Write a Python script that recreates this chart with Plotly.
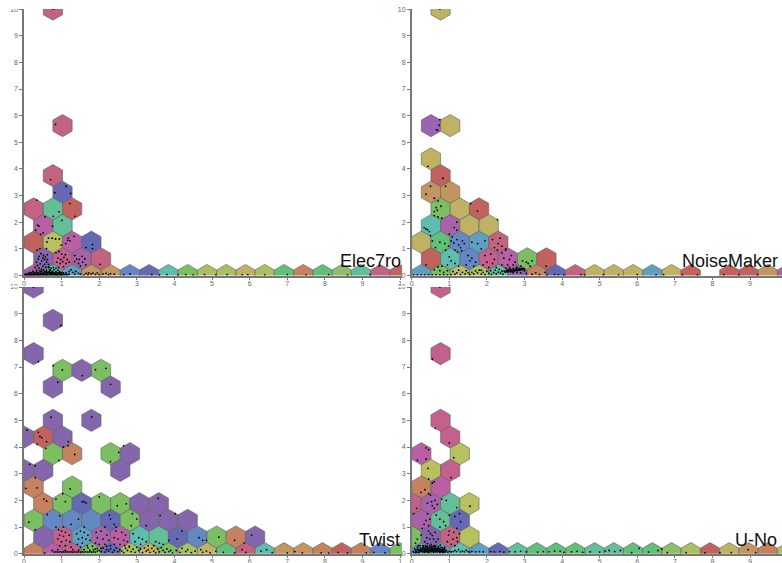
import plotly.graph_objects as go

W, H = 782, 563

tick_vals = [0, 1, 2, 3, 4, 5, 6, 7, 8, 9, 10]
x_tick_text = ["0", "1", "2", "3", "4", "5", "6", "7", "8", "9", "1"]
y_tick_text = ["0", "1", "2", "3", "4", "5", "6", "7", "8", "9", "10"]
panel_names = ["Elec7ro", "NoiseMaker", "Twist", "U-No"]

palette = {
    "rose": "#c2637f", "teal": "#62bf97", "red": "#c2625f", "indigo": "#6568b3",
    "magenta": "#b95fa6", "olive": "#b8c05f", "violet": "#8566ad", "pink": "#c3608e",
    "purple": "#a862a9", "cyan": "#5fbdb0", "sky": "#5f9fc2", "tan": "#c4965f",
    "blue": "#6488c4", "green": "#7bbf62", "yg": "#a9c062", "khaki": "#c0b264",
    "terra": "#c4825f", "emerald": "#62bf78", "lilac": "#9a64b0", "lime": "#8cc068",
}

# hex bins as (column, row)
elec_bins = [(3,16),(4,9),(3,6),(4,5),(1,4),(3,4),(5,4),(2,3),(4,3),(1,2),(3,2),(5,2),(7,2),
             (2,1),(4,1),(6,1),(8,1),
             (1,0),(3,0),(5,0),(7,0),(9,0),(11,0),(13,0),(15,0),(17,0),(19,0),(21,0),(23,0),
             (25,0),(27,0),(29,0),(31,0),(33,0),(35,0),(37,0),(39,0)]
elec_tones = ["rose","rose","rose","indigo","rose","teal","red","magenta","teal","red","olive","magenta","indigo",
              "violet","pink","purple","rose",
              "purple","cyan","sky","tan","tan","blue","indigo","cyan","green","yg","yg","khaki",
              "yg","emerald","terra","emerald","lime","teal","rose","red"]

noise_bins = [(3,16),(2,9),(4,9),(2,7),(3,6),(2,5),(4,5),(3,4),(5,4),(7,4),(2,3),(4,3),(6,3),(8,3),
              (1,2),(3,2),(5,2),(7,2),(9,2),
              (2,1),(4,1),(6,1),(8,1),(10,1),(12,1),(14,1),
              (1,0),(3,0),(5,0),(7,0),(9,0),(11,0),(13,0),(15,0),(17,0),(19,0),(21,0),(23,0),
              (25,0),(27,0),(29,0),(33,0),(35,0),(37,0),(39,0)]
noise_tones = ["khaki","lilac","khaki","khaki","red","tan","tan","green","khaki","red","cyan","purple","khaki","khaki",
               "khaki","emerald","blue","sky","rose",
               "red","cyan","blue","pink","magenta","green","red",
               "sky","green","olive","yg","teal","violet","terra","indigo","rose","khaki","khaki","khaki",
               "sky","khaki","red","red","red","tan","purple"]

twist_bins = [(1,16),(3,14),(1,12),(4,11),(6,11),(8,11),(3,10),(9,10),(3,8),(7,8),(0,7),(2,7),(4,7),
              (3,6),(5,6),(9,6),(11,6),(0,5),(2,5),(10,5),(1,4),(5,4),
              (2,3),(4,3),(6,3),(8,3),(10,3),(12,3),(14,3),
              (1,2),(3,2),(5,2),(7,2),(9,2),(11,2),(13,2),(15,2),(17,2),
              (2,1),(4,1),(6,1),(8,1),(10,1),(12,1),(14,1),(16,1),(18,1),(20,1),(22,1),(24,1),
              (1,0),(3,0),(5,0),(7,0),(9,0),(11,0),(13,0),(15,0),(17,0),(19,0),(21,0),(23,0),(25,0),
              (27,0),(29,0),(31,0),(33,0),(35,0),(37,0),(39,0)]
twist_tones = ["violet","violet","violet","green","violet","green","violet","violet","violet","violet","violet","red","violet",
               "green","terra","green","violet","violet","violet","violet","terra","green",
               "terra","green","indigo","green","green","violet","violet",
               "green","blue","blue","blue","indigo","green","violet","violet","violet",
               "violet","pink","sky","purple","magenta","cyan","teal","indigo","blue","green","terra","violet",
               "terra","magenta","pink","green","indigo","yg","khaki","green","yg","khaki","emerald","rose","cyan",
               "tan","tan","terra","red","terra","blue","green"]

uno_bins = [(3,16),(3,12),(3,8),(4,7),(1,6),(5,6),(2,5),(4,5),(1,4),(3,4),(0,3),(2,3),(4,3),(6,3),
            (1,2),(3,2),(5,2),(0,1),(2,1),(4,1),(6,1),
            (1,0),(3,0),(5,0),(7,0),(9,0),(11,0),(13,0),(15,0),(17,0),(19,0),(21,0),(23,0),(25,0),
            (27,0),(29,0),(31,0),(33,0),(35,0),(37,0),(39,0)]
uno_tones = ["pink","pink","pink","pink","magenta","olive","olive","pink","terra","magenta","pink","purple","teal","olive",
             "purple","teal","indigo","green","violet","rose","olive",
             "sky","sky","cyan","sky","indigo","teal","emerald","emerald","emerald","teal","teal","emerald","emerald",
             "lime","yg","red","khaki","tan","terra","yg"]

elec_dots = [(.78,10),(.84,5.67),(.71,3.6),(1.12,3.35),(1.24,3.08),(.82,3.11),(.34,2.83),(1.22,2.7),(.93,2.39),(1.35,2.22),
 (.78,2.22),(.56,2.2),(1.01,2.07),(.36,1.89),(.4,1.85),(.76,1.85),(.31,1.7),(.51,1.6),(.44,1.54),(.65,1.4),(.75,1.4),
 (.84,1.37),(.94,1.37),(.61,1.26),(.99,1.14),(.6,1.01),(1.33,1.47),(1.18,1.4),(1.16,1.32),(1.22,1.3),(1.11,1.2),(1.82,1.16),
 (1.82,1.01),(1.65,1.05),(.42,1.01),(.35,.95),(.33,.5),(.38,.62),(.4,.72),(.45,.82),(.47,.55),(.5,.66),(.52,.75),(.55,.6),
 (.57,.7),(.6,.5),(.62,.6),(.62,.78),(.65,.42),(.43,.44),(.36,.38),(.5,.35),(.55,.42),(.58,.3),(.4,.28),(.47,.24),(.66,.3),
 (.3,.3),(.34,.2),(.42,.18),(.52,.2),(.6,.2),(.68,.22),(.85,.85),(.93,.9),(1.0,.8),(1.1,.78),(.9,.65),(.98,.6),(1.06,.68),
 (1.15,.6),(.87,.5),(.96,.45),(1.03,.52),(1.12,.45),(.92,.3),(1.05,.33),(1.2,.5),(1.35,.75),(1.55,.72),(1.4,.62),(1.47,.6),
 (1.35,.52),(1.45,.45),(1.56,.5),(1.64,.4),(1.5,.35),(1.62,.62),(.65,.32),(.72,.28),(.78,.3),(.85,.27),(.7,.2),(.8,.22),
 (.9,.2),(.95,.15),(.6,.15),(.75,.15),(.85,.14),(1.0,.12),(1.05,.1),(1.25,.22),(1.2,.15),(1.3,.12),(1.12,.1),(1.38,.15),
 (1.45,.08),(1.2,.05),(1.35,.05),(1.5,.06),(1.6,.02),(1.65,.08),(1.7,.03),(1.72,.1),(1.78,.06),(1.83,.09),(1.9,.04),
 (1.95,.1),(2.0,.03),(2.02,.42),(2.1,.06),(2.18,.08),(2.25,.03),(2.3,.07),(2.4,.05),(2.65,.03),(2.82,.06),(3.4,.03),(3.6,.02),
 (3.8,.03),(4.1,.02),(4.3,.03),(4.5,.02),(4.8,.03),(5.1,.02),(5.4,.03),(5.8,.02),(5.95,.03),(6.4,.02),(7.0,.03),(7.5,.02),
 (8.1,.03),(8.6,.02),(9.2,.03),
 (.02,.03),(.05,.06),(.08,.03),(.11,.08),(.14,.04),(.17,.09),(.2,.03),(.23,.07),(.26,.12),(.29,.04),(.32,.09),(.35,.03),
 (.38,.11),(.41,.05),(.44,.08),(.47,.03),(.5,.12),(.53,.06),(.56,.03),(.59,.1),(.62,.05),(.65,.13),(.68,.03),(.71,.08),
 (.74,.11),(.77,.04),(.8,.09),(.83,.03),(.86,.07),(.89,.04),(.92,.09),(.95,.03),(.98,.06),(1.01,.03),(1.04,.05),(1.07,.02),
 (1.1,.05),(1.13,.02),(1.16,.03),(.03,.01),(.07,.01),(.1,.02),(.13,.01),(.16,.02),(.19,.01),(.22,.02),(.25,.01),(.28,.02),
 (.31,.01),(.34,.06),(.37,.01),(.4,.02),(.43,.01),(.46,.06),(.49,.02),(.52,.01),(.55,.08),(.58,.01),(.61,.02),(.64,.01),
 (.67,.08),(.7,.02),(.73,.01),(.76,.06),(.79,.01),(.82,.06),(.85,.01),(.88,.02),(.91,.01),(.94,.06),(.97,.01),(1.0,.02),
 (.24,.16),(.28,.1),(.33,.14),(.37,.07),(.43,.13),(.46,.16),(.51,.09),(.55,.15),(.58,.12),(.63,.1),(.67,.14),(.7,.12),(.74,.07),(.78,.12),
 (.83,.1),(.88,.1),(.93,.13),(.97,.1),(.15,.12),(.2,.1)]

noise_dots = [(.75,10),(.75,5.85),(.73,5.64),(.69,5.45),(.66,5.47),(.43,4.1),(.83,3.65),(.5,3.35),(.9,3.35),(.38,3.05),(.6,2.9),
 (.7,2.8),(.78,2.6),(.65,2.55),(.6,2.4),(.68,2.45),(.6,2.25),(.7,2.2),(.8,2.15),(1.57,2.7),(1.75,2.42),(2.28,2.1),(1.2,2.0),
 (.33,1.8),(.38,1.75),(.42,1.72),(.47,1.65),(.5,1.5),(1.13,1.8),(1.2,1.7),(1.0,1.55),(1.08,1.45),(.55,1.3),(.75,1.25),
 (.88,1.2),(.98,1.1),(.63,1.05),(.9,.95),(1.05,1.3),(1.12,1.22),(1.2,1.35),(1.25,1.15),(1.3,1.05),(1.35,1.3),(1.4,1.2),
 (1.15,.95),(1.33,.93),(1.22,.88),(1.6,1.25),(1.75,1.2),(1.85,1.0),(1.95,1.3),(2.15,1.35),(2.35,1.4),(2.3,1.2),(2.2,1.05),
 (2.4,1.1),(2.5,1.0),(2.28,.95),(.38,.4),(1.0,.7),(1.05,.55),(1.15,.45),(1.25,.35),(.95,.4),(1.5,.75),(1.55,.55),(1.45,.4),
 (1.65,.35),(1.6,.65),(1.7,.5),(1.95,.75),(2.1,.8),(2.2,.6),(2.0,.5),(2.15,.45),(2.25,.3),(1.9,.4),(2.05,.3),(1.85,.2),
 (2.4,.85),(2.5,.95),(2.65,.75),(2.6,.6),(2.45,.65),(2.75,.5),(2.55,.4),(2.7,.4),(2.4,.4),(2.8,.3),(2.95,.55),(3.05,.5),
 (3.1,.45),(3.15,.35),(2.9,.35),(3.0,.25),(3.2,.55),(3.58,.35),(.7,.32),(.8,.35),(.6,.22),(.75,.18),(.85,.12),(.95,.18),
 (1.1,.15),(1.2,.1),(1.25,.2),(1.35,.12),(1.45,.18),(1.5,.1),(1.15,.05),(1.3,.03),(1.42,.06),(1.55,.03),(1.6,.12),(1.65,.06),
 (1.7,.17),(1.75,.1),(1.8,.2),(1.85,.05),(1.9,.12),(1.95,.03),(2.0,.16),(2.05,.08),(2.1,.18),(2.12,.04),(2.18,.11),(2.22,.2),
 (2.25,.06),(2.3,.13),(2.33,.23),(2.36,.09),(2.4,.16),(2.43,.05),(2.46,.17),(2.5,.13),(2.53,.2),(2.56,.16),(2.6,.18),
 (2.63,.14),(2.66,.2),(2.7,.17),(2.73,.22),(2.76,.19),(2.8,.24),(2.83,.2),(2.86,.26),(2.9,.22),(2.93,.27),(2.96,.24),(3.0,.17),
 (2.5,.28),(2.6,.3),(2.7,.1),(2.8,.12),(2.9,.1),(3.05,.08),(.05,.02),(.15,.02),(.25,.02),(.35,.02),(.45,.03),(.55,.02),(.65,.03),
 (.75,.02),(.85,.03),(.95,.02),(1.05,.03),(3.2,.05),(3.3,.1),(3.4,.03),(3.55,.12),(3.6,.02),(3.8,.04),(3.9,.03),(4.05,.02),
 (4.5,.03),(4.6,.02),(5.1,.03),(5.5,.02),(6.0,.03),(6.5,.02),(6.7,.03),(7.2,.03),(7.6,.02),(8.3,.03),(8.7,.02),(9.2,.03),
 (2.48,.14),(2.52,.17),(2.55,.13),(2.58,.2),(2.62,.16),(2.65,.18),(2.68,.15),(2.71,.2),(2.74,.17),(2.77,.21),(2.81,.19),(2.84,.23),
 (2.87,.2),(2.91,.25),(2.94,.22),(2.98,.26),(2.55,.22),(2.62,.24),(2.7,.26),(2.78,.27)]

twist_dots = [(.25,10),(.98,8.55),(.38,7.2),(.9,6.43),(1.02,6.89),(.78,7.05),(1.55,6.68),(1.9,6.9),(2.18,6.95),(2.3,6.35),
 (.72,5.12),(1.8,5.13),(.08,4.63),(.38,4.55),(.42,4.4),(.47,4.35),(.6,4.2),(.35,4.1),(1.18,4.2),(.58,3.95),(1.17,4.05),
 (1.05,4.0),(1.35,3.72),(2.52,3.8),(2.3,3.45),(2.65,4.05),(.15,3.35),(.3,3.3),(.93,3.5),(.3,2.85),(.05,2.45),(.35,2.47),
 (1.23,2.43),(.53,2.05),(.6,1.97),(.85,2.05),(1.1,1.95),(1.03,2.25),(1.55,1.95),(1.65,1.9),(1.6,1.95),(2.0,2.13),(2.48,1.8),
 (2.72,1.87),(3.57,2.08),(.13,1.18),(.3,.9),(.62,1.47),(.95,1.42),(.85,1.0),(1.05,1.0),(1.25,1.1),(1.45,1.3),(1.6,1.0),
 (2.27,1.45),(2.3,1.3),(2.4,1.1),(2.45,1.0),(2.15,1.0),(2.85,1.05),(3.0,1.3),(2.88,1.5),(3.25,1.05),(3.62,1.43),(4.02,1.5),
 (.92,.9),(1.0,.85),(1.1,.8),(.95,.7),(1.05,.65),(1.2,.7),(.9,.55),(1.0,.45),(1.12,.5),(1.22,.45),(.95,.3),(1.1,.3),(1.25,.25),
 (1.4,.75),(1.5,.85),(1.6,.8),(1.7,.7),(1.45,.55),(1.55,.6),(1.65,.55),(1.75,.5),(1.42,.35),(1.55,.4),(1.68,.3),(1.5,.25),
 (1.92,.8),(2.05,.85),(2.2,.7),(1.95,.6),(2.1,.55),(2.25,.5),(1.9,.4),(2.0,.35),(2.15,.35),(2.3,.3),(2.05,.2),(2.2,.15),(1.95,.2),
 (2.45,.85),(2.6,.8),(2.7,.7),(2.4,.6),(2.5,.55),(2.65,.5),(2.75,.45),(2.4,.35),(2.55,.35),(2.68,.3),(2.8,.25),
 (2.9,.75),(3.05,.6),(3.15,.55),(3.25,.45),(2.95,.45),(3.1,.35),(3.3,.3),(3.5,.45),(3.6,.4),(3.7,.35),(3.45,.3),(3.85,.5),
 (4.07,.55),(4.2,.85),(4.65,.6),(4.75,.5),(4.85,.5),(5.18,.62),(5.6,.5),(5.85,.4),(6.05,.7),(.75,.12),(.8,.06),(.85,.07),(.9,.06),
 (.95,.07),(1.0,.06),(1.05,.07),(1.1,.06),(1.15,.07),(1.2,.06),(1.25,.07),(1.3,.06),(1.35,.07),(1.4,.06),(1.45,.07),(1.5,.06),
 (1.55,.07),(1.6,.06),(1.65,.07),(1.7,.06),(1.75,.07),(1.8,.06),(1.85,.07),(1.9,.06),(.55,.02),(.9,.15),(1.1,.12),(1.3,.15),(1.45,.13),
 (1.6,.15),(1.7,.22),(1.75,.12),(1.82,.28),(1.85,.15),(1.9,.18),(1.95,.1),(2.0,.12),(2.05,.08),(2.1,.22),(2.15,.06),(2.2,.28),
 (2.25,.1),(2.3,.18),(2.35,.05),(2.4,.12),(2.45,.22),(2.5,.08),(2.55,.15),(2.6,.1),(2.65,.04),(2.7,.2),(2.75,.12),(2.8,.28),(2.85,.08),
 (2.9,.17),(2.95,.05),(3.0,.24),(3.05,.12),(3.1,.18),(3.15,.04),(3.2,.22),(3.25,.1),(3.3,.15),(3.35,.05),(3.4,.2),(3.45,.1),(3.5,.03),
 (3.55,.18),(3.6,.07),(3.65,.22),(3.7,.12),(3.75,.05),(3.8,.18),(3.85,.08),(3.9,.12),(3.95,.03),(4.05,.12),(4.15,.05),(4.2,.2),
 (4.3,.08),(4.35,.15),(4.45,.04),(4.55,.1),(4.7,.15),(4.75,.05),(4.85,.1),(4.95,.03),(5.1,.1),(5.3,.05),(5.6,.03),(5.8,.15),(5.9,.05),
 (6.3,.1),(6.45,.15),(6.6,.04),(7.0,.03),(7.2,.08),(7.4,.03),(7.9,.03),(8.1,.02),(8.35,.05),(8.6,.03),(9.1,.03),(9.3,.05),(9.6,.03)]

uno_dots = [(.75,10),(.55,7.3),(.63,4.7),(1.0,4.15),(.38,3.97),(.45,3.9),(.38,3.55),(.15,3.5),(1.12,3.6),(.43,3.2),(1.05,2.85),(.45,2.8),
 (.55,2.65),(.6,2.7),(.35,2.4),(.25,2.3),(.45,2.25),(.5,2.2),(.8,2.05),(.62,2.0),(.53,1.95),(.42,1.9),(.55,1.8),(.68,1.85),(.6,1.7),
 (.92,2.0),(1.2,1.73),(1.55,1.78),(.13,1.7),(.05,1.5),(.42,1.5),(.48,1.3),(.38,1.25),(.33,1.1),(.45,1.05),(.28,.95),(.75,1.3),(.85,1.2),
 (.65,1.45),(.9,1.05),(.75,1.0),(1.0,1.45),(1.15,1.4),(1.27,1.5),(1.3,1.2),(1.2,.95),(.45,.85),(.5,.75),(.55,.68),(.4,.6),(.48,.55),
 (.58,.55),(.65,.45),(.35,.45),(.42,.38),(.52,.35),(.6,.3),(.7,.55),(.3,.3),(.38,.25),(.62,.8),(.25,.7),(.15,.55),(.1,.4),(.18,.3),
 (1.0,.85),(1.12,.8),(.98,.7),(1.1,.55),(1.2,.6),(.95,.45),(1.05,.35),(1.15,.3),(1.22,.45),(.88,.25),(1.27,.75),
 (.04,.08),(.08,.18),(.12,.07),(.15,.25),(.18,.12),(.2,.04),(.22,.3),(.25,.18),(.27,.08),(.3,.22),(.32,.12),(.34,.05),(.36,.28),(.38,.16),
 (.4,.09),(.42,.24),(.44,.14),(.46,.05),(.48,.3),(.5,.18),(.52,.08),(.54,.26),(.56,.13),(.58,.05),(.6,.2),(.62,.1),(.64,.28),(.66,.15),
 (.68,.07),(.7,.22),(.72,.12),(.74,.05),(.76,.32),(.78,.16),(.8,.08),(.82,.22),(.84,.12),(.86,.06),(.88,.15),(.9,.08),(.14,.15),(.24,.11),
 (.28,.15),(.33,.2),(.37,.07),(.41,.17),(.45,.11),(.49,.12),(.53,.16),(.57,.09),(.61,.15),(.65,.09),(.69,.14),(.73,.18),(.77,.09),
 (.92,.12),(.96,.06),(1.0,.09),(1.05,.07),(1.1,.08),(1.15,.12),(1.2,.08),(1.25,.15),(1.3,.07),(1.35,.1),(1.4,.07),(1.45,.13),(1.5,.08),
 (1.55,.06),(1.6,.09),(1.7,.07),(1.8,.08),(1.9,.07),(2.1,.08),(2.2,.07),(2.35,.09),(2.45,.06),(2.6,.08),(2.75,.07),(2.9,.09),(3.05,.07),
 (3.35,.06),(3.5,.08),(3.65,.07),(3.8,.1),(3.95,.09),(4.05,.05),(4.25,.07),(4.4,.09),(4.55,.05),(4.75,.07),(5.0,.06),(5.15,.1),(5.25,.12),
 (5.4,.08),(5.55,.12),(5.85,.04),(6.05,.2),(6.3,.06),(6.55,.12),(6.65,.18),(6.8,.04),(7.3,.04),(7.8,.03),(8.2,.03),(8.5,.04),(8.95,.15),(9.15,.04),
 (.1,.12),(.16,.18),(.2,.14),(.23,.22),(.26,.12),(.29,.18),(.31,.26),(.33,.1),(.35,.17),(.37,.22),(.39,.12),(.41,.28),(.43,.19),(.45,.08),
 (.47,.23),(.49,.16),(.51,.25),(.53,.1),(.55,.2),(.57,.17),(.59,.27),(.61,.22),(.63,.12),(.65,.2),(.67,.12),(.69,.18),(.71,.27),(.73,.1),
 (.75,.2),(.77,.14),(.79,.24),(.81,.12),(.83,.17),(.85,.1),(.87,.2),(.3,.07),(.36,.1),(.42,.06),(.47,.12),(.52,.14),(.57,.12),(.63,.07),
 (.7,.1),(.76,.07),(.82,.05),(.88,.07),(.22,.09),(.16,.06),(.11,.04),(.06,.05)]

PANELS = [
    (elec_bins, elec_tones, elec_dots, (24, 402), (9.1, 275.5), 10.05),
    (noise_bins, noise_tones, noise_dots, (411.7, 782), (9.1, 275.5), 9.85),
    (twist_bins, twist_tones, twist_dots, (24, 402), (287, 553.7), 10.05),
    (uno_bins, uno_tones, uno_dots, (411.7, 782), (287, 553.7), 9.85),
]
COL_W, ROW_H = 0.256, 0.625
LABEL_RIGHT = [403, 780, 402, 779]
LABEL_MID = [260.5, 260.5, 539.5, 539.5]

fig = go.Figure()
layout = {}
annotations, shapes = [], []

for i, (bins, tones, dots, (px0, px1), (py1, py0), xmax) in enumerate(PANELS):
    s = "" if i == 0 else str(i + 1)
    layout["xaxis" + s] = dict(
        domain=[px0 / W, px1 / W], range=[0, xmax], anchor="y" + s,
        tickmode="array", tickvals=[t for t in tick_vals if t <= xmax], ticktext=x_tick_text,
        ticks="outside", ticklen=3, tickwidth=1, tickcolor="#777", showgrid=False, zeroline=False,
        showline=True, linecolor="#777", linewidth=1.5, ticklabelstandoff=-3,
        tickfont=dict(family="Liberation Sans", size=7, color="#666"),
    )
    layout["yaxis" + s] = dict(
        domain=[1 - py0 / H, 1 - py1 / H], range=[0, 10], anchor="x" + s,
        tickmode="array", tickvals=tick_vals, ticktext=y_tick_text,
        ticks="outside", ticklen=3, tickwidth=1, tickcolor="#777", showgrid=False, zeroline=False,
        showline=True, linecolor="#777", linewidth=1.5,
        tickfont=dict(family="Liberation Sans", size=7, color="#666"),
    )
    for (col, row), tone in zip(bins, tones, strict=True):
        cx, cy = col * COL_W, row * ROW_H
        dx, tip = COL_W, ROW_H * 2 / 3
        fig.add_trace(go.Scatter(
            x=[cx, cx + dx, cx + dx, cx, cx - dx, cx - dx, cx],
            y=[cy + tip, cy + tip / 2, cy - tip / 2, cy - tip, cy - tip / 2, cy + tip / 2, cy + tip],
            mode="lines", fill="toself", fillcolor=palette[tone],
            line=dict(color="rgba(95,95,95,0.6)", width=1),
            xaxis="x" + s, yaxis="y" + s, hoverinfo="skip", showlegend=False,
        ))
    fig.add_trace(go.Scatter(
        x=[d[0] for d in dots], y=[d[1] for d in dots], mode="markers",
        marker=dict(color="#000", size=1.8, line=dict(width=0)),
        xaxis="x" + s, yaxis="y" + s, hoverinfo="skip", showlegend=False,
    ))
    annotations.append(dict(
        text=panel_names[i], xref="paper", yref="paper",
        x=LABEL_RIGHT[i] / W, y=1 - LABEL_MID[i] / H, xanchor="right", yanchor="middle",
        showarrow=False, font=dict(family="Liberation Sans", size=18, color="#111"),
    ))

# upper halves of the top "10" labels are cut off in the reference
for (y0, y1, x0, x1) in [(0, 9, 0, 24), (285.6, 287, 0, 24), (285.6, 287, 395, 411)]:
    shapes.append(dict(type="rect", xref="paper", yref="paper", layer="above",
                       x0=x0 / W, x1=x1 / W, y0=1 - y1 / H, y1=1 - y0 / H,
                       fillcolor="#fff", line=dict(width=0)))

fig.update_layout(width=W, height=H, autosize=False,
                  margin=dict(l=0, r=0, t=0, b=0, pad=0, autoexpand=False),
                  paper_bgcolor="#fff", plot_bgcolor="#fff", showlegend=False,
                  annotations=annotations, shapes=shapes, **layout)
fig.write_html("out.html", config=dict(displayModeBar=False),
               post_script="document.body.style.margin='0';document.body.style.overflow='hidden';")
